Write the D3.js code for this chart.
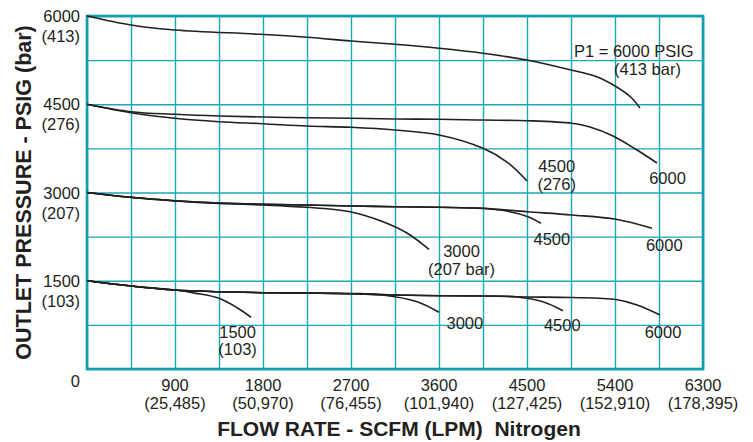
<!DOCTYPE html>
<html>
<head>
<meta charset="utf-8">
<script src="https://cdn.jsdelivr.net/npm/d3@7"></script>
<style>
  body { margin: 0; background: #fff; }
  text { font-family: "Liberation Sans", Arial, sans-serif; fill: #231f20; }
</style>
</head>
<body>
<div id="app"></div>
<script>
// Flow (SCFM) vs outlet pressure (PSIG) curves, one per inlet pressure P1
const p6000From6000 = [[0, 6000], [450, 5847], [900, 5762], [1769, 5689], [2250, 5638], [2700, 5575], [3150, 5519], [3600, 5451], [4050, 5366], [4500, 5252], [4950, 5082], [5200, 4975], [5400, 4810], [5560, 4623], [5655, 4436]];
const p6000From4500 = [[0, 4500], [450, 4373], [900, 4329], [1350, 4300], [1800, 4283], [2250, 4271], [2700, 4261], [3150, 4249], [3600, 4244], [4050, 4232], [4500, 4220], [4960, 4176], [5144, 4113], [5380, 3960], [5625, 3722], [5829, 3501]];
const p4500From4500 = [[0, 4500], [450, 4356], [900, 4261], [1350, 4203], [1800, 4169], [2250, 4130], [2700, 4108], [3150, 4062], [3600, 3977], [4050, 3751], [4295, 3518], [4500, 3195]];
const p6000From3000 = [[0, 3000], [450, 2918], [900, 2861], [1350, 2822], [1800, 2800], [2250, 2788], [2700, 2771], [3150, 2759], [3600, 2749], [4050, 2731], [4500, 2674], [4960, 2618], [5410, 2545], [5778, 2392]];
const p4500From3000 = [[0, 3000], [450, 2918], [900, 2861], [1350, 2822], [1800, 2800], [2250, 2788], [2700, 2771], [3150, 2759], [3600, 2749], [4050, 2731], [4326, 2674], [4510, 2589], [4643, 2477]];
const p3000From3000 = [[0, 3000], [450, 2915], [900, 2856], [1350, 2813], [1800, 2788], [2250, 2748], [2690, 2674], [3027, 2504], [3272, 2312], [3497, 2035]];
const p6000From1500 = [[0, 1500], [450, 1411], [900, 1343], [1350, 1314], [1800, 1297], [2250, 1292], [2700, 1280], [3150, 1258], [3600, 1246], [4050, 1241], [4500, 1225], [4960, 1215], [5410, 1180], [5625, 1088], [5860, 918]];
const p4500From1500 = [[0, 1500], [450, 1411], [900, 1343], [1350, 1314], [1800, 1297], [2250, 1292], [2700, 1280], [3150, 1258], [3600, 1246], [4050, 1241], [4400, 1225], [4663, 1144], [4868, 991]];
const p3000From1500 = [[0, 1500], [450, 1411], [900, 1343], [1350, 1314], [1800, 1297], [2250, 1292], [2700, 1283], [3000, 1262], [3375, 1144], [3600, 964]];
const p1500From1500 = [[0, 1500], [450, 1411], [900, 1343], [1104, 1290], [1350, 1202], [1544, 1032], [1677, 879]];

const curves = [p6000From6000, p6000From4500, p4500From4500, p6000From3000, p4500From3000,
  p3000From3000, p6000From1500, p4500From1500, p3000From1500, p1500From1500];

// Curve labels: text, flow, pressure (anchor point)
const curveLabels = [
  ["P1 = 6000 PSIG", 4980, 5303, "start"], ["(413 bar)", 5390, 4997, "start"],
  ["4500", 4804, 3348, "middle"], ["(276)", 4804, 3042, "middle"],
  ["6000", 5937, 3144, "middle"],
  ["3000", 3830, 1904, "middle"], ["(207 bar)", 3830, 1598, "middle"],
  ["4500", 4754, 2108, "middle"],
  ["6000", 5904, 2006, "middle"],
  ["1500", 1540, 527, "middle"], ["(103)", 1540, 238, "middle"],
  ["3000", 3864, 680, "middle"],
  ["4500", 4861, 646, "middle"],
  ["6000", 5891, 527, "middle"]
];

const xTicks = [900, 1800, 2700, 3600, 4500, 5400, 6300];
const xTicksLpm = ["(25,485)", "(50,970)", "(76,455)", "(101,940)", "(127,425)", "(152,910)", "(178,395)"];
const yTicks = [1500, 3000, 4500, 6000];
const yTicksBar = ["(103)", "(207)", "(276)", "(413)"];

const width = 753, height = 442;
const margin = { top: 16, right: 50, bottom: 73, left: 87 };

const d3 = window.d3;

const x = d3.scaleLinear().domain([0, 6300]).range([margin.left, width - margin.right]);
const y = d3.scaleLinear().domain([0, 6000]).range([height - margin.bottom, margin.top]);

const svg = d3.select("#app").append("svg").attr("width", width).attr("height", height);

const teal = "#1ba6b3";

// grid
svg.append("g")
  .attr("transform", `translate(0,${y(0)})`)
  .call(d3.axisBottom(x).tickValues(d3.range(0, 6301, 450)).tickSize(-(y(0) - y(6000))).tickFormat(""))
  .call(g => g.select(".domain").remove())
  .selectAll("line").attr("stroke", teal).attr("stroke-width", 1.4);

svg.append("g")
  .attr("transform", `translate(${x(0)},0)`)
  .call(d3.axisLeft(y).tickValues(d3.range(0, 6001, 750)).tickSize(-(x(6300) - x(0))).tickFormat(""))
  .call(g => g.select(".domain").remove())
  .selectAll("line").attr("stroke", teal).attr("stroke-width", 1.4);

// frame
svg.append("rect")
  .attr("x", x(0)).attr("y", y(6000))
  .attr("width", x(6300) - x(0)).attr("height", y(0) - y(6000))
  .attr("fill", "none").attr("stroke", "#0f9fac").attr("stroke-width", 2.6);

// curves
const line = d3.line().x(d => x(d[0])).y(d => y(d[1])).curve(d3.curveCatmullRom.alpha(0.5));
svg.append("g")
  .attr("fill", "none").attr("stroke", "#231f20").attr("stroke-width", 1.6)
  .selectAll("path").data(curves).join("path")
  .attr("d", line);

// curve labels
svg.append("g").attr("font-size", "16.5px")
  .selectAll("text").data(curveLabels).join("text")
  .attr("x", d => x(d[1])).attr("y", d => y(d[2]))
  .attr("text-anchor", d => d[3])
  .text(d => d[0]);

// y tick labels
const yl = svg.append("g").attr("font-size", "16.5px").attr("text-anchor", "end");
yl.selectAll(".psig").data(yTicks).join("text")
  .attr("x", x(0) - 7).attr("y", d => y(d) + 6).text(d => d);
yl.selectAll(".bar").data(yTicksBar).join("text")
  .attr("x", x(0) - 7).attr("y", (d, i) => y(yTicks[i]) + 26).text(d => d);
yl.append("text").attr("x", x(0) - 7).attr("y", y(0) + 18).text("0");

// x tick labels
const xl = svg.append("g").attr("font-size", "16.5px").attr("text-anchor", "middle");
xl.selectAll(".scfm").data(xTicks).join("text")
  .attr("x", d => x(d)).attr("y", y(0) + 22).text(d => d);
xl.selectAll(".lpm").data(xTicksLpm).join("text")
  .attr("x", (d, i) => x(xTicks[i])).attr("y", y(0) + 40).text(d => d);

// axis titles
svg.append("text")
  .attr("transform", `translate(31,${(y(0) + y(6000)) / 2}) rotate(-90)`)
  .attr("text-anchor", "middle").attr("font-weight", "bold").attr("font-size", "21.5px")
  .text("OUTLET PRESSURE - PSIG (bar)");

svg.append("text")
  .attr("x", 399).attr("y", 436)
  .attr("text-anchor", "middle").attr("font-weight", "bold").attr("font-size", "21px")
  .style("white-space", "pre")
  .text("FLOW RATE - SCFM (LPM)  Nitrogen");
</script>
</body>
</html>
